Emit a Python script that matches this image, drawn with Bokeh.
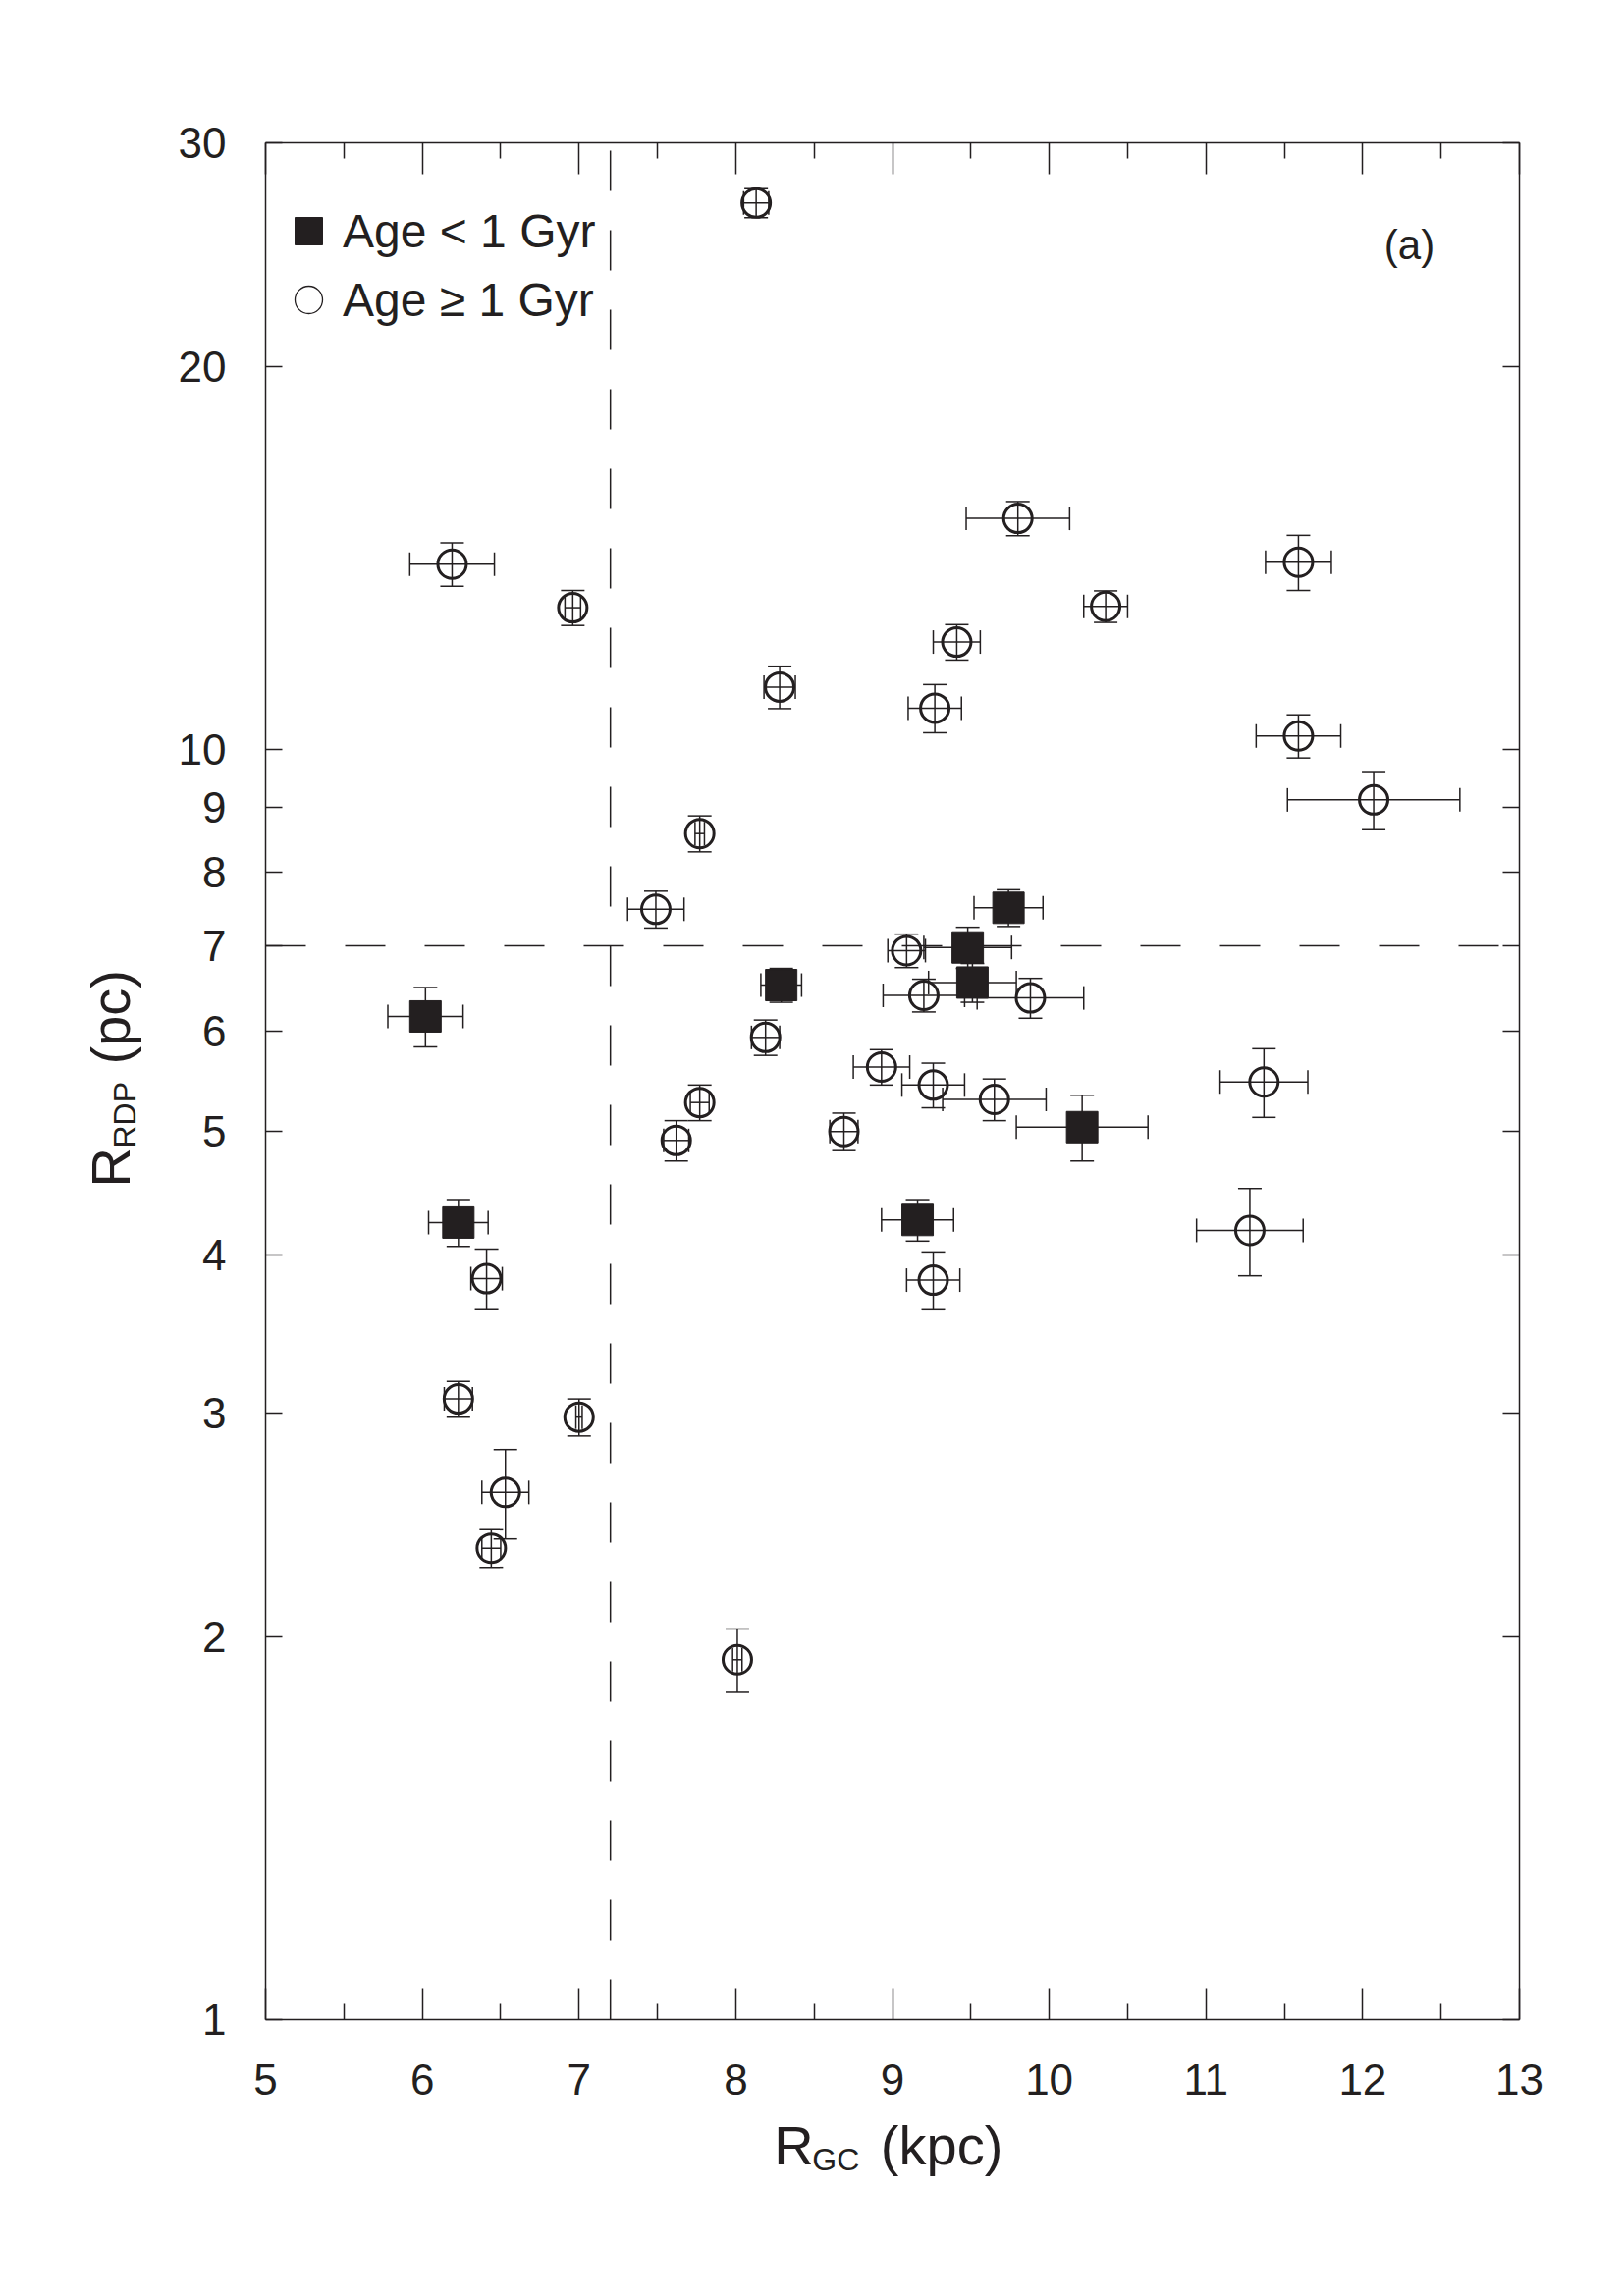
import math
from bokeh.plotting import figure
from bokeh.layouts import row, column
from bokeh.models import (ColumnDataSource, Whisker, TeeHead, FixedTicker, LinearAxis, LogAxis,
                          CustomJSTickFormatter, Label, Legend, LegendItem, Range1d)
from bokeh.embed import file_html
from bokeh.resources import INLINE

INK = "#231f20"
FONT = "Liberation Sans"

# ---------------- data ----------------
# Age < 1 Gyr (filled squares)
young_rgc      = [6.02, 6.23, 8.29, 9.48, 9.51, 9.74, 9.16, 10.21]
young_rgc_err  = [0.24, 0.19, 0.13, 0.28, 0.28, 0.22, 0.23, 0.42]
young_rrdp     = [6.16, 4.24, 6.52, 6.98, 6.55, 7.50, 4.26, 5.04]
young_rrdp_err = [0.33, 0.18, 0.20, 0.26, 0.23, 0.25, 0.16, 0.30]

# Age >= 1 Gyr (open circles)
old_rgc      = [8.13, 6.19, 6.96, 9.80, 11.59, 10.36, 9.41, 8.28, 9.27, 11.59, 12.07,
                7.77, 7.49, 9.09, 9.20, 9.88, 8.19, 8.93, 9.26, 9.65, 11.37, 7.77,
                7.62, 8.69, 6.41, 9.26, 11.28, 6.23, 7.00, 6.53, 6.44, 8.01]
old_rgc_err  = [0.08, 0.27, 0.05, 0.33, 0.21, 0.14, 0.15, 0.10, 0.17, 0.27, 0.55,
                0.03, 0.18, 0.12, 0.26, 0.34, 0.09, 0.18, 0.20, 0.33, 0.28, 0.06,
                0.08, 0.09, 0.10, 0.17, 0.34, 0.09, 0.02, 0.15, 0.06, 0.03]
old_rrdp     = [26.9, 13.98, 12.92, 15.19, 14.03, 12.95, 12.14, 11.19, 10.77, 10.24, 9.12,
                8.58, 7.48, 6.94, 6.40, 6.37, 5.93, 5.62, 5.44, 5.30, 5.47, 5.27,
                4.92, 5.00, 3.83, 3.82, 4.18, 3.08, 2.98, 2.60, 2.35, 1.92]
old_rrdp_err = [0.71, 0.55, 0.41, 0.47, 0.70, 0.37, 0.39, 0.43, 0.47, 0.40, 0.48,
                0.28, 0.25, 0.21, 0.19, 0.23, 0.19, 0.18, 0.22, 0.20, 0.34, 0.17,
                0.18, 0.17, 0.21, 0.20, 0.33, 0.10, 0.10, 0.21, 0.08, 0.11]

x_ticks = [5, 6, 7, 8, 9, 10, 11, 12, 13]
x_minor = [5.5, 6.5, 7.5, 8.5, 9.5, 10.5, 11.5, 12.5]
y_ticks = [1, 2, 3, 4, 5, 6, 7, 8, 9, 10, 20, 30]

RGC_CUT = 7.2
RRDP_CUT = 7.0

# ---------------- layout geometry (page pixels) ----------------
FL, FR, FT, FB = 270, 1547, 145, 2057   # frame edges of the main plot
WL = 160          # width of the strip holding the y title
WP = 1470         # width of the main plot (and of the x-title strip)
HP = 2150         # height of the main plot
HB = 170          # height of the x-title strip

p = figure(width=WP, height=HP, x_range=Range1d(5, 13), y_range=Range1d(1, 30),
           y_axis_type="log", output_backend="svg", toolbar_location=None,
           min_border_left=FL - WL, min_border_right=WL + WP - FR,
           min_border_top=FT, min_border_bottom=HP - FB)
p.outline_line_color = None
p.xgrid.visible = False
p.ygrid.visible = False
p.background_fill_color = "white"
p.border_fill_color = "white"

UX = (FR - FL) / 8.0
DEC = (FB - FT) / math.log10(30)
def X(px):
    return 5 + (px - FL) / UX
def Y(py):
    return 10 ** ((FB - py) / DEC)


def style(ax, ticks, minor, major_in, minor_in, labels, standoff=40):
    ax.ticker = FixedTicker(ticks=ticks, minor_ticks=minor)
    ax.major_tick_in = major_in
    ax.major_tick_out = 0
    ax.minor_tick_in = minor_in
    ax.minor_tick_out = 0
    ax.axis_line_color = INK
    ax.axis_line_width = 1.5
    ax.major_tick_line_color = INK
    ax.major_tick_line_width = 1.5
    ax.minor_tick_line_color = INK if minor else None
    ax.minor_tick_line_width = 1.5
    ax.axis_label = None
    if labels:
        ax.formatter = CustomJSTickFormatter(code="return tick.toFixed(0)")
        ax.major_label_text_font = FONT
        ax.major_label_text_font_size = "44px"
        ax.major_label_text_color = INK
        ax.major_label_standoff = standoff
    else:
        ax.formatter = CustomJSTickFormatter(code="return ''")
        ax.major_label_standoff = 0
        ax.major_label_text_font_size = "1px"


style(p.xaxis[0], x_ticks, x_minor, 32, 16, True, standoff=45)
style(p.yaxis[0], y_ticks, [], 17, 0, True, standoff=40)

top_ax = LinearAxis()
style(top_ax, x_ticks, x_minor, 32, 16, False)
p.add_layout(top_ax, "above")
right_ax = LogAxis()
style(right_ax, y_ticks, [], 17, 0, False)
p.add_layout(right_ax, "right")

# dashed reference lines
p.line([RGC_CUT, RGC_CUT], [y_ticks[0], y_ticks[-1]], line_color=INK, line_width=1.5, line_dash="41 40")
p.line([x_ticks[0], x_ticks[-1]], [RRDP_CUT, RRDP_CUT], line_color=INK, line_width=1.5, line_dash="41 40")


def add_errors(xs, xe, ys, ye):
    src = ColumnDataSource(dict(
        x=xs, y=ys,
        xlo=[a - b for a, b in zip(xs, xe)], xhi=[a + b for a, b in zip(xs, xe)],
        ylo=[a - b for a, b in zip(ys, ye)], yhi=[a + b for a, b in zip(ys, ye)]))
    for dim, base, lo, hi in (("width", "y", "xlo", "xhi"), ("height", "x", "ylo", "yhi")):
        w = Whisker(source=src, base=base, lower=lo, upper=hi, dimension=dim,
                    line_color=INK, line_width=1.5,
                    upper_head=TeeHead(size=24, line_color=INK, line_width=1.5),
                    lower_head=TeeHead(size=24, line_color=INK, line_width=1.5))
        p.add_layout(w)
    return src


src_old = add_errors(old_rgc, old_rgc_err, old_rrdp, old_rrdp_err)
src_young = add_errors(young_rgc, young_rgc_err, young_rrdp, young_rrdp_err)

p.scatter("x", "y", source=src_old, marker="circle", size=29, fill_color=None,
          line_color=INK, line_width=3)
p.scatter("x", "y", source=src_young, marker="square", size=32, fill_color=INK,
          line_color=INK, line_width=1)

# legend: swatch-only renderers (a single non-plotted row)
nan = float("nan")
leg_sq = p.scatter(x=[nan], y=[nan], marker="square", fill_color=INK, line_color=INK, line_width=1)
leg_ci = p.scatter(x=[nan], y=[nan], marker="circle", fill_color=None, line_color=INK, line_width=1.3)
legend = Legend(items=[LegendItem(label="Age < 1 Gyr", renderers=[leg_sq]),
                       LegendItem(label="Age \u2265 1 Gyr", renderers=[leg_ci])],
                location=(9, 1717), glyph_width=70, glyph_height=70, label_standoff=0,
                spacing=0, padding=0, margin=0, border_line_color=None,
                background_fill_alpha=0, label_text_font=FONT, label_text_font_size="48px",
                label_text_color=INK, label_text_baseline="middle")
p.add_layout(legend)

# panel tag
p.add_layout(Label(x=X(1435), y=Y(249), text="(a)", text_align="center",
                   text_baseline="alphabetic", text_font=FONT, text_font_size="42px",
                   text_color=INK))


# ---------------- title strips ----------------
def strip(w, h):
    f = figure(width=w, height=h, x_range=Range1d(0, w), y_range=Range1d(0, h),
               x_axis_type=None, y_axis_type=None, output_backend="svg",
               toolbar_location=None, min_border=0)
    f.min_border_left = f.min_border_right = f.min_border_top = f.min_border_bottom = 0
    f.outline_line_color = None
    f.xgrid.visible = False
    f.ygrid.visible = False
    f.title.visible = False
    f.background_fill_color = "white"
    f.border_fill_color = "white"
    return f


def txt(f, x, y, s, size, angle=0.0):
    f.add_layout(Label(x=x, y=y, text=s, angle=angle, text_align="left",
                       text_baseline="alphabetic", text_font=FONT,
                       text_font_size=size, text_color=INK))


# y title strip: page x == strip x, page y -> HP - y
lf = strip(WL, HP)
txt(lf, 111.7, HP - 1209, "R", "56px", math.pi / 2)
txt(lf, 126.0, HP - 1169, "RDP", "32px", math.pi / 2)
txt(lf, 111.7, HP - 1084, "(pc)", "56px", math.pi / 2)

# x title strip: page x -> x - WL, page y -> HB - (y - HP)
bf = strip(WP, HB)
txt(bf, 756 - WL, HB - (2185 - HP), "R", "56px")
txt(bf, 801 - WL, HB - (2199 - HP), "GC", "32px")
txt(bf, 881 - WL, HB - (2185 - HP), "(kpc)", "56px")

layout = row(lf, column(p, bf, spacing=0), spacing=0)
open("out.html", "w").write(file_html(layout, INLINE))
